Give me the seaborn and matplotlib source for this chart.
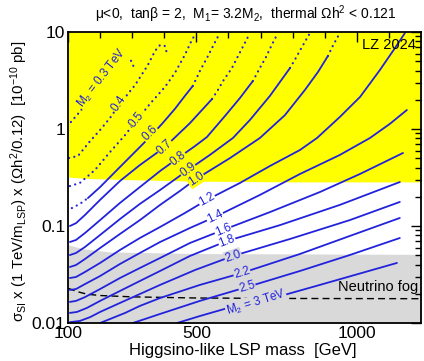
import matplotlib
matplotlib.use("Agg")
import matplotlib.pyplot as plt
import numpy as np
import seaborn as sns
from matplotlib.ticker import FixedLocator, NullFormatter

# ---- data (m in GeV, sigma in 1e-10 pb) ----
# dotted curves that never turn solid
m03 = [109, 131, 156, 184, 212, 237, 262, 281, 290, 299, 306]
s03 = [1.18, 1.43, 1.81, 2.41, 3.20, 4.26, 5.14, 5.52, 5.40, 4.91, 4.26]
m04 = [103, 131, 169, 200, 231, 259, 309, 349, 371, 387, 402, 408]
s04 = [0.502, 0.527, 0.752, 0.977, 1.30, 1.77, 2.84, 4.57, 6.37, 7.35, 7.17, 6.08]
m05 = [106, 137, 184, 231, 278, 315, 355, 402, 433, 464, 486, 499]
s05 = [0.258, 0.278, 0.378, 0.579, 0.867, 1.24, 1.81, 2.71, 3.78, 5.79, 8.27, 9.77]

# M2 = 0.6 TeV: dotted - solid - dotted
m06_lo = [112, 137, 162]
s06_lo = [0.153, 0.169, 0.194]
m06 = [162, 200, 262, 324, 355, 393, 433, 464, 489]
s06 = [0.194, 0.252, 0.406, 0.652, 0.827, 1.13, 1.61, 2.19, 2.78]
m06_hi = [489, 511, 533, 552, 573]
s06_hi = [2.78, 3.96, 5.40, 7.17, 9.77]

m07 = [106, 125, 153, 200, 262, 324, 402, 480, 549]
s07 = [0.100, 0.107, 0.130, 0.186, 0.291, 0.425, 0.652, 1.15, 2.04]
m07_hi = [549, 567, 583, 611, 630, 651, 667]
s07_hi = [2.04, 2.52, 3.12, 4.26, 5.66, 7.70, 9.77]

m08 = [106, 125, 153, 200, 262, 324, 387, 443, 496, 533, 589, 636, 676]
s08 = [0.0684, 0.0718, 0.0847, 0.115, 0.173, 0.252, 0.369, 0.502, 0.668, 0.827, 1.36, 2.09, 3.12]
m08_hi = [676, 698, 717, 735, 754]
s08_hi = [3.12, 4.26, 5.52, 7.35, 9.77]

m09 = [106, 125, 153, 200, 262, 324, 387, 474, 542, 614, 667, 729, 792]
s09 = [0.0502, 0.0527, 0.0608, 0.0808, 0.118, 0.169, 0.235, 0.378, 0.540, 0.808, 1.24, 2.19, 4.26]
m09_hi = [792, 810, 829, 854]
s09_hi = [4.26, 5.40, 7.00, 9.77]

m10 = [106, 125, 153, 200, 262, 324, 387, 449, 499, 605, 698, 776, 838, 879, 910]
s10 = [0.0378, 0.0396, 0.0457, 0.0593, 0.0828, 0.115, 0.165, 0.230, 0.305, 0.502, 0.808, 1.39, 2.52, 3.87, 5.66]
m10_hi = [910, 925, 947]
s10_hi = [5.66, 7.17, 9.77]

m12 = [106, 125, 153, 200, 262, 324, 387, 464, 533, 636, 729, 823, 876, 947, 1010, 1072, 1119, 1150]
s12 = [0.0291, 0.0298, 0.0336, 0.0416, 0.0566, 0.0752, 0.0977, 0.136, 0.186, 0.278, 0.415, 0.608,
       0.808, 1.33, 2.14, 4.06, 6.84, 9.77]

m14 = [106, 125, 153, 200, 262, 324, 387, 480, 558, 698, 823, 947, 1041, 1103, 1156]
s14 = [0.0219, 0.0224, 0.0252, 0.0305, 0.0406, 0.0527, 0.0684, 0.0954, 0.124, 0.209, 0.344, 0.540,
       0.808, 1.13, 1.57]

m16 = [106, 125, 153, 200, 262, 324, 387, 480, 583, 729, 885, 1010, 1144]
s16 = [0.0165, 0.0169, 0.0185, 0.0224, 0.0291, 0.0369, 0.0468, 0.0668, 0.0910, 0.139, 0.224, 0.344, 0.566]

m18 = [106, 128, 159, 200, 262, 324, 387, 480, 595, 760, 947, 1134]
s18 = [0.0127, 0.0130, 0.0143, 0.0169, 0.0214, 0.0271, 0.0344, 0.0491, 0.0700, 0.102, 0.165, 0.284]

m20 = [106, 137, 169, 200, 262, 324, 387, 496, 614, 792, 978, 1134]
s20 = [0.0102, 0.0105, 0.0115, 0.0130, 0.0161, 0.0199, 0.0247, 0.0352, 0.0491, 0.0735, 0.115, 0.177]

m22 = [200, 231, 278, 324, 387, 511, 642, 823, 978, 1134]
s22 = [0.0100, 0.0110, 0.0127, 0.0150, 0.0181, 0.0247, 0.0328, 0.0515, 0.0789, 0.121]

m25 = [302, 340, 387, 511, 658, 823, 978, 1134]
s25 = [0.0100, 0.0110, 0.0124, 0.0169, 0.0235, 0.0344, 0.0502, 0.0752]

m30 = [440, 511, 589, 686, 885, 1125]
s30 = [0.0100, 0.0118, 0.0140, 0.0161, 0.0247, 0.0416]

# excluded (LZ 2024) band and neutrino fog
lz_m = [100, 150, 300, 500, 800, 1200]
lz_lo = [0.32, 0.31, 0.30, 0.29, 0.285, 0.285]
fog_band_m = [100, 150, 230, 500, 1200]
fog_band_hi = [0.064, 0.058, 0.054, 0.052, 0.051]
fog_m = [100, 130, 160, 200, 300, 500, 800, 1200]
fog_s = [0.0228, 0.021, 0.0198, 0.0192, 0.0186, 0.0181, 0.0179, 0.0178]

labels = ["M$_2$ = 0.3 TeV", "0.4", "0.5", "0.6", "0.7", "0.8", "0.9", "1.0",
          "1.2", "1.4", "1.6", "1.8", "2.0", "2.2", "2.5", "M$_2$ = 3 TeV"]

# ---- plotting ----
blue = "#2222dd"
sns.set_theme(style="white")
plt.rcParams["font.family"] = ["Liberation Sans", "DejaVu Sans"]
plt.rcParams["mathtext.fontset"] = "custom"
plt.rcParams["mathtext.rm"] = "Liberation Sans"
plt.rcParams["mathtext.it"] = "Liberation Sans"
plt.rcParams["mathtext.bf"] = "Liberation Sans:bold"

fig = plt.figure(figsize=(4.24, 3.61), dpi=100)
ax = fig.add_axes([68 / 424, 1 - 323 / 361, 353 / 424, 291 / 361])
ax.set_yscale("log")

ax.fill_between(lz_m, lz_lo, 10, color="#ffff00", lw=0, zorder=0)
ax.fill_between(fog_band_m, 0.01, fog_band_hi, color="#d9d9d9", lw=0, zorder=0)
sns.lineplot(x=fog_m, y=fog_s, color="black", lw=1.0, linestyle=(0, (5, 3)), ax=ax, zorder=1)

solid = [(m06, s06), (m07, s07), (m08, s08), (m09, s09), (m10, s10), (m12, s12), (m14, s14),
         (m16, s16), (m18, s18), (m20, s20), (m22, s22), (m25, s25), (m30, s30)]
dotted = [(m03, s03), (m04, s04), (m05, s05), (m06_lo, s06_lo), (m06_hi, s06_hi),
          (m07_hi, s07_hi), (m08_hi, s08_hi), (m09_hi, s09_hi), (m10_hi, s10_hi)]
for mx, sy in solid:
    sns.lineplot(x=mx, y=sy, sort=False, estimator=None, color=blue, lw=1.3, ax=ax, zorder=2)
for mx, sy in dotted:
    sns.lineplot(x=mx, y=sy, sort=False, estimator=None, color=blue, lw=1.6,
                 linestyle=(0, (0.05, 2.4)), dash_capstyle="round", ax=ax, zorder=2)

# inline contour labels: position and angle
lab_m = [206, 259, 315, 355, 402, 443, 474, 499, 533, 558, 583, 595, 614, 642, 658, 686]
lab_s = [3.3, 1.85, 1.24, 0.9, 0.65, 0.5, 0.378, 0.305, 0.186, 0.124, 0.091, 0.07, 0.049,
         0.0328, 0.0235, 0.0161]
lab_rot = [52, 55, 50, 45, 42, 38, 36, 33, 29, 26, 23, 21, 19, 17, 16, 17]
for txt, lm, ls, rot in zip(labels, lab_m, lab_s, lab_rot):
    if ls > np.interp(lm, lz_m, lz_lo):
        bg = "#ffff00"
    elif ls > np.interp(lm, fog_band_m, fog_band_hi):
        bg = "white"
    else:
        bg = "#d9d9d9"
    ax.text(lm, ls, txt, color=blue, fontsize=8.5, rotation=rot, ha="center", va="center",
            rotation_mode="anchor", zorder=3,
            bbox=dict(boxstyle="square,pad=0.05", fc=bg, ec="none"))

ax.text(1185, 7.3, "LZ 2024", fontsize=10.5, ha="right", va="center", color="black")
ax.text(1192, 0.0235, "Neutrino fog", fontsize=10.5, ha="right", va="center", color="black")

ax.set_xlim(100, 1200)
ax.set_ylim(0.01, 10)
ax.xaxis.set_major_locator(FixedLocator([100, 500, 1000]))
ax.xaxis.set_minor_locator(FixedLocator(list(range(200, 1200, 100))))
ax.set_xticklabels(["100", "500", "1000"])
ax.yaxis.set_major_locator(FixedLocator([0.01, 0.1, 1, 10]))
ax.set_yticklabels(["0.01", "0.1", "1", "10"])
ax.yaxis.set_minor_formatter(NullFormatter())
ax.tick_params(which="both", direction="in", top=True, right=True, colors="black",
               labelsize=12.5, pad=2)
ax.tick_params(which="major", length=7, width=1.0)
ax.tick_params(which="minor", length=4, width=1.0)
for sp in ax.spines.values():
    sp.set_color("black")
    sp.set_linewidth(1.3)
    sp.set_zorder(5)

ax.set_xlabel("Higgsino-like LSP mass  [GeV]", fontsize=12, color="black")
ax.xaxis.set_label_coords(0.496, -0.068)
ax.set_ylabel("σ$_{\\rm SI}$ x (1 TeV/m$_{\\rm LSP}$) x (Ωh$^2$/0.12)  [10$^{-10}$ pb]",
              fontsize=10.8, color="black")
ax.yaxis.set_label_coords(-0.108, 0.485)
fig.text(0.579, 1 - 14 / 361, "μ<0,  tanβ = 2,  M$_1$= 3.2M$_2$,  thermal Ωh$^2$ < 0.121",
         fontsize=10, ha="center", va="center", color="black")

fig.savefig("out.png", dpi=100)
